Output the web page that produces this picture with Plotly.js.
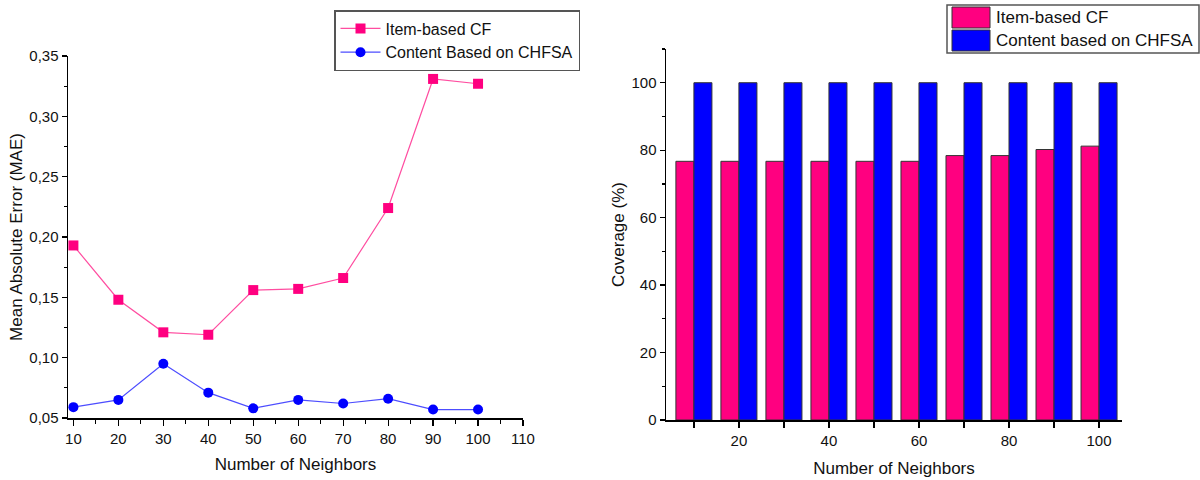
<!DOCTYPE html>
<html>
<head>
<meta charset="utf-8">
<script src="https://cdn.plot.ly/plotly-3.0.1.min.js"></script>
<style>
  html, body { margin: 0; padding: 0; background: #fff; }
  #chart { width: 1200px; height: 480px; }
</style>
</head>
<body>
<div id="chart"></div>
<script>
// ---- data ----
const neighbors = [10, 20, 30, 40, 50, 60, 70, 80, 90, 100];
const maeItemCF = [0.193, 0.148, 0.121, 0.119, 0.156, 0.157, 0.166, 0.224, 0.331, 0.327];
const maeContent = [0.059, 0.065, 0.095, 0.071, 0.058, 0.065, 0.062, 0.066, 0.057, 0.057];
const covItemCF = [76.7, 76.7, 76.7, 76.7, 76.7, 76.7, 78.4, 78.4, 80.2, 81.2];
const covContent = [100, 100, 100, 100, 100, 100, 100, 100, 100, 100];
const lineNames = ['Item-based CF', 'Content Based on CHFSA'];
const barNames = ['Item-based CF', 'Content based on CHFSA'];

const PINK = '#FF0080';
const BLUE = '#0000FF';
const FONT = 'Liberation Sans, Arial, sans-serif';

const traces = [
  {
    x: neighbors, y: maeItemCF, name: lineNames[0], type: 'scatter', mode: 'lines+markers',
    xaxis: 'x', yaxis: 'y', legend: 'legend',
    line: { color: '#FF4DA0', width: 1.2 },
    marker: { symbol: 'square', size: 10, color: PINK }
  },
  {
    x: neighbors, y: maeContent, name: lineNames[1], type: 'scatter', mode: 'lines+markers',
    xaxis: 'x', yaxis: 'y', legend: 'legend',
    line: { color: '#4D4DFF', width: 1.2 },
    marker: { symbol: 'circle', size: 10, color: BLUE }
  },
  {
    x: neighbors, y: covItemCF, name: barNames[0], type: 'bar',
    xaxis: 'x2', yaxis: 'y2', showlegend: false,
    marker: { color: PINK, line: { color: '#333', width: 1 } }
  },
  {
    x: neighbors, y: covContent, name: barNames[1], type: 'bar',
    xaxis: 'x2', yaxis: 'y2', showlegend: false,
    marker: { color: BLUE, line: { color: '#333', width: 1 } }
  }
];

const axisCommon = {
  showgrid: false, zeroline: false, showline: true, linecolor: '#000', linewidth: 1.5,
  ticks: 'outside', ticklen: 6, tickwidth: 1.2, tickcolor: '#000',
  tickfont: { family: FONT, size: 15, color: '#111' }
};
const titleFont = { family: FONT, size: 17, color: '#111' };

// helper: pixel -> paper coordinates
const px = v => v / 1200;
const py = v => 1 - v / 480;

// manual legend for the bar chart (large swatches as in the original)
const legendShapes = [
  { type: 'rect', xref: 'paper', yref: 'paper', x0: px(947), x1: px(1199), y0: py(53), y1: py(5),
    line: { color: '#555', width: 1.5 }, fillcolor: '#fff', layer: 'above' },
  { type: 'rect', xref: 'paper', yref: 'paper', x0: px(952), x1: px(990), y0: py(28), y1: py(7),
    line: { color: '#333', width: 1 }, fillcolor: PINK, layer: 'above' },
  { type: 'rect', xref: 'paper', yref: 'paper', x0: px(952), x1: px(990), y0: py(51), y1: py(30),
    line: { color: '#333', width: 1 }, fillcolor: BLUE, layer: 'above' }
];
const legendAnnots = [
  { text: barNames[0], xref: 'paper', yref: 'paper', x: px(994), y: py(17.5), xanchor: 'left', yanchor: 'middle',
    showarrow: false, font: { family: FONT, size: 17, color: '#111' } },
  { text: barNames[1], xref: 'paper', yref: 'paper', x: px(994), y: py(40.5), xanchor: 'left', yanchor: 'middle',
    showarrow: false, font: { family: FONT, size: 17, color: '#111' } }
];

const layout = {
  width: 1200, height: 480,
  margin: { l: 0, r: 0, t: 0, b: 0 },
  paper_bgcolor: '#fff', plot_bgcolor: '#fff',
  separators: ',.',
  font: { family: FONT, color: '#111' },
  barmode: 'group', bargap: 0.2, bargroupgap: 0,
  xaxis: Object.assign({}, axisCommon, {
    domain: [px(68), px(523)], anchor: 'y',
    range: [8.8, 110], tick0: 10, dtick: 10,
    minor: { dtick: 5, tick0: 5, ticks: 'outside', ticklen: 4, tickcolor: '#000', showgrid: false },
    title: { text: 'Number of Neighbors', standoff: 12, font: titleFont }
  }),
  yaxis: Object.assign({}, axisCommon, {
    domain: [62 / 480, 424 / 480], anchor: 'x',
    range: [0.05, 0.35], tick0: 0.05, dtick: 0.05, tickformat: '.2f', ticklen: 5,
    minor: { dtick: 0.025, tick0: 0.05, ticks: 'outside', ticklen: 3, tickcolor: '#000', showgrid: false },
    title: { text: 'Mean Absolute Error (MAE)', standoff: 2, font: titleFont }
  }),
  xaxis2: Object.assign({}, axisCommon, {
    domain: [px(666), px(1122)], anchor: 'y2',
    range: [3.8, 105.1], tick0: 0, dtick: 20,
    minor: { dtick: 10, tick0: 0, ticks: 'outside', ticklen: 6, tickcolor: '#000', showgrid: false },
    title: { text: 'Number of Neighbors', standoff: 14, font: titleFont }
  }),
  yaxis2: Object.assign({}, axisCommon, {
    domain: [60 / 480, 431 / 480], anchor: 'x2',
    range: [0, 110], tick0: 0, dtick: 20, ticklen: 5,
    minor: { dtick: 10, tick0: 0, ticks: 'outside', ticklen: 3, tickcolor: '#000', showgrid: false },
    title: { text: 'Coverage (%)', standoff: 2, font: titleFont }
  }),
  legend: {
    x: px(334), y: py(10), xanchor: 'left', yanchor: 'top',
    bgcolor: '#fff', bordercolor: '#555', borderwidth: 1.5,
    font: { family: FONT, size: 16, color: '#111' },
    tracegroupgap: 0, itemwidth: 40
  },
  shapes: legendShapes,
  annotations: legendAnnots
};

Plotly.newPlot('chart', traces, layout, { staticPlot: true, displayModeBar: false });
</script>
</body>
</html>
